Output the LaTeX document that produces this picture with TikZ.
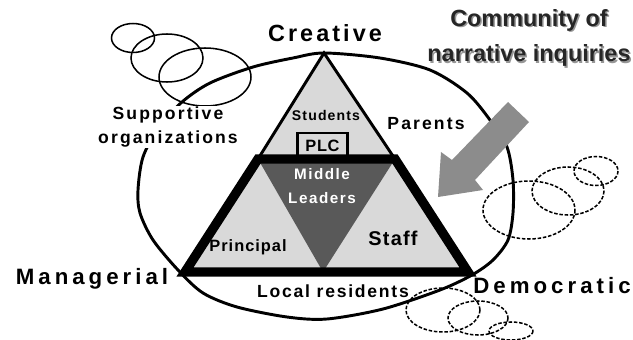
\documentclass[tikz,border=0pt]{standalone}
\usepackage{fontspec}
\setmainfont{Liberation Sans}
\usepackage{xcolor}
\usepackage{tikz}
\usetikzlibrary{shapes}
\usetikzlibrary{calc}
\definecolor{lightfill}{RGB}{217,217,217}
\definecolor{darkfill}{RGB}{89,89,89}
\definecolor{arrowfill}{RGB}{140,140,140}
\definecolor{shadowgray}{RGB}{150,150,150}
\newcommand{\spaced}[1]{\addfontfeatures{LetterSpace=#1}}
\tikzset{ pole_label/.style = {inner sep=1pt, font=\bfseries\fontsize{19}{22}\selectfont\spaced{18}} }
\tikzset{ ring_label/.style = {inner sep=1pt, align=center, font=\bfseries\fontsize{15}{20}\selectfont\spaced{12}} }
\tikzset{ inner_label/.style = {inner sep=1pt, align=center, font=\bfseries\fontsize{14}{16}\selectfont\spaced{6}} }
\tikzset{ swirl_solid/.style = {line width=1.3pt} }
\tikzset{ swirl_dash/.style = {line width=1.3pt, dash pattern=on 3pt off 1.5pt} }

\begin{document}
\begin{tikzpicture}[x=0.03cm, y=-0.03cm]
            \useasboundingbox (0,0) rectangle (633,340);
                    % swirls top left
                    \draw [style=swirl_solid] (133,38) ellipse (21.5 and 14.5);
                    \draw [style=swirl_solid] (167,58) ellipse (36 and 24);
                    \draw [style=swirl_solid] (205,77) ellipse (46 and 29);
                    % community ring
                    \draw [line width=2.5pt] plot [smooth cycle] coordinates {(324,53) (380,58) (430,70) (467,93) (490,120) (507,147) (513,180) (513,213) (508,240) (493,260) (472,275) (440,290) (383,309) (327,319) (287,317) (237,307) (203,293) (178,270) (153,240) (140,213) (138,190) (143,157) (159,127) (182,102) (210,83) (253,67) (293,58)};
                    % upper triangle and PLC
                    \draw [line width=2.5pt, fill=lightfill, line join=miter] (324,53) -- (395,159) -- (258,159) -- cycle;
                    \node [draw, line width=2.2pt, fill=lightfill, minimum width=50*0.03cm, minimum height=26*0.03cm, inner sep=0pt, font=\bfseries\fontsize{14}{16}\selectfont\spaced{4}] (plc) at (322.5,146) {PLC};
                    % lower trapezoid
                    \fill [lightfill] (258,159) -- (395,159) -- (468,272) -- (185,272) -- cycle;
                    \fill [darkfill] (258,159) -- (395,159) -- (323,272) -- cycle;
                    \draw [line width=8pt, line join=miter] (258,159) -- (395,159) -- (468,272) -- (185,272) -- cycle;
                    % arrow
                    \fill [arrowfill] (508,102) -- (529,122) -- (475,180) -- (483,190) -- (438,197) -- (441,152) -- (452,160) -- cycle;
                    % swirls right
                    \draw [style=swirl_dash] (529,210) ellipse (46 and 29);
                    \draw [style=swirl_dash] (568,191) ellipse (36 and 24);
                    \draw [style=swirl_dash] (596,171) ellipse (22 and 14.5);
                    \draw [style=swirl_dash] (443,310) ellipse (37 and 22);
                    \draw [style=swirl_dash] (478,318) ellipse (30 and 17);
                    \draw [style=swirl_dash] (511,331) ellipse (22 and 9);
                    % labels
                    \node [style=pole_label, font=\bfseries\fontsize{20}{22}\selectfont\spaced{13}] (creative) at (325,33) {Creative};
                    \node [style=pole_label] (managerial) at (92,279) {Managerial};
                    \node [style=pole_label] (democratic) at (552,286) {Democratic};
                    \node [style=ring_label, fill=white] (support) at (168,127) {Supportive\\organizations};
                    \node [style=ring_label] (parents) at (426,124) {Parents};
                    \node [style=ring_label, font=\bfseries\fontsize{15}{20}\selectfont\spaced{10}] (residents) at (333,291) {Local residents};
                    \node [style=inner_label, font=\bfseries\fontsize{12}{14}\selectfont\spaced{8}] (students) at (326,115) {Students};
                    \node [style=inner_label, text=white, font=\bfseries\fontsize{13}{20}\selectfont\spaced{10}] (middle) at (322,186) {Middle\\Leaders};
                    \node [style=inner_label] (principal) at (248,247) {Principal};
                    \node [style=inner_label, font=\bfseries\fontsize{17}{18}\selectfont\spaced{6}] (staff) at (393,238) {Staff};
                    \node [align=center, text=shadowgray, font=\bfseries\fontsize{20}{30}\selectfont] (title_shadow) at (530.5,39.5) {Community of\\narrative inquiries};
                    \node [align=center, text=black!85, font=\bfseries\fontsize{20}{30}\selectfont] (title) at (529,38) {Community of\\narrative inquiries};
            \end{tikzpicture}
\end{document}
